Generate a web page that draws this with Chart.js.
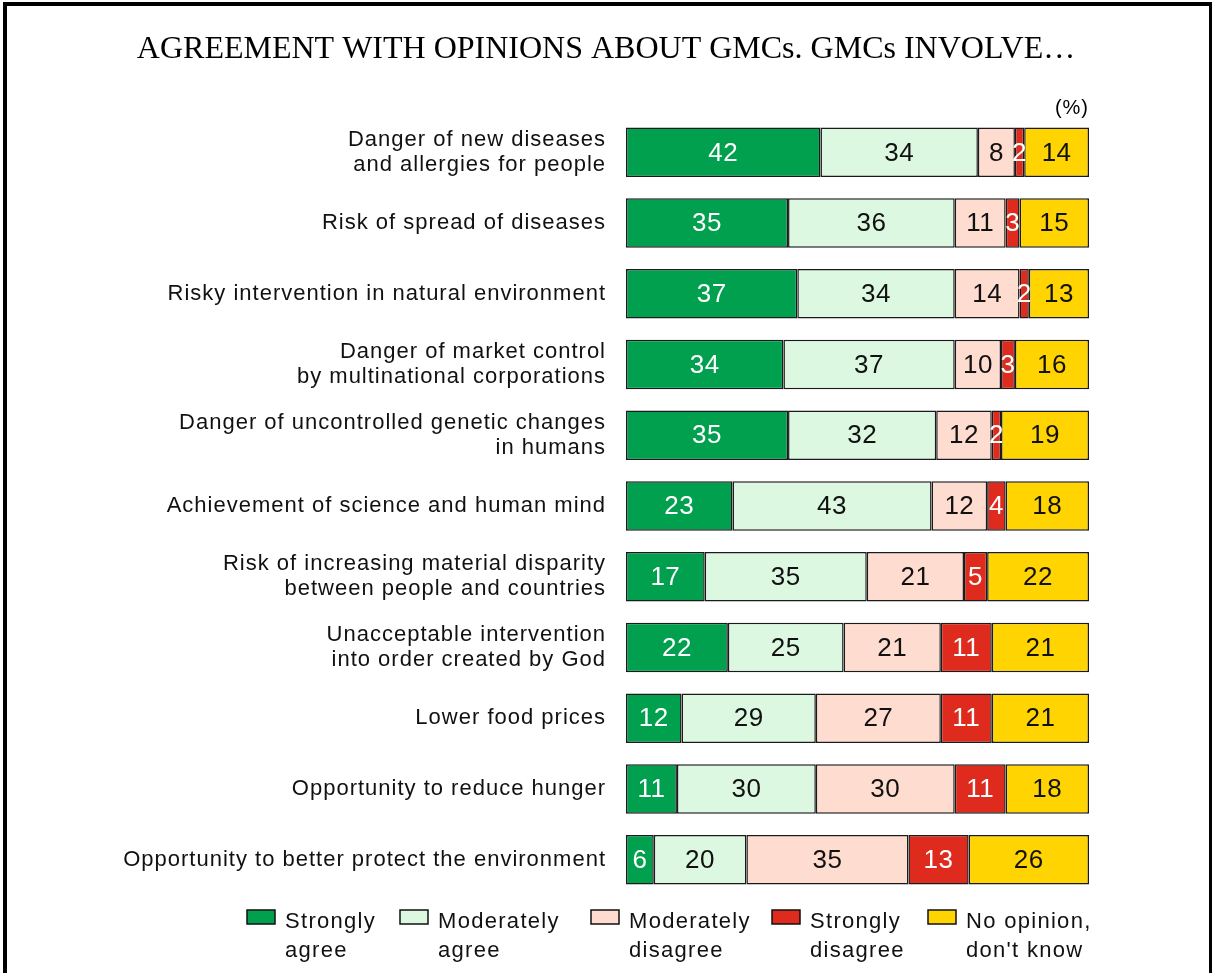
<!DOCTYPE html>
<html>
<head>
<meta charset="utf-8">
<style>
  html, body { margin: 0; padding: 0; background: #fff; }
  #wrap { width: 1212px; height: 973px; position: relative; }
</style>
<script src="https://cdn.jsdelivr.net/npm/chart.js@4.4.0/dist/chart.umd.min.js"></script>
</head>
<body>
<div id="wrap"><canvas id="gmcChart" width="1212" height="973"></canvas></div>
<script>
const categories = [
    ['Danger of new diseases', 'and allergies for people'],
    'Risk of spread of diseases',
    'Risky intervention in natural environment',
    ['Danger of market control', 'by multinational corporations'],
    ['Danger of uncontrolled genetic changes', 'in humans'],
    'Achievement of science and human mind',
    ['Risk of increasing material disparity', 'between people and countries'],
    ['Unacceptable intervention', 'into order created by God'],
    'Lower food prices',
    'Opportunity to reduce hunger',
    'Opportunity to better protect the environment'
];

const stronglyAgree     = [42, 35, 37, 34, 35, 23, 17, 22, 12, 11, 6];
const moderatelyAgree   = [34, 36, 34, 37, 32, 43, 35, 25, 29, 30, 20];
const moderatelyDisagree = [8, 11, 14, 10, 12, 12, 21, 21, 27, 30, 35];
const stronglyDisagree  = [2, 3, 2, 3, 2, 4, 5, 11, 11, 11, 13];
const noOpinion         = [14, 15, 13, 16, 19, 18, 22, 21, 21, 18, 26];

const seriesNames = [
    ['Strongly', 'agree'],
    ['Moderately', 'agree'],
    ['Moderately', 'disagree'],
    ['Strongly', 'disagree'],
    ['No opinion,', "don't know"]
];
const seriesColors = ['#00A04E', '#DCF8E0', '#FFDCD0', '#DF2B1D', '#FFD400'];
const labelColors = ['#ffffff', '#111111', '#111111', '#ffffff', '#111111'];
const seriesValues = [stronglyAgree, moderatelyAgree, moderatelyDisagree, stronglyDisagree, noOpinion];

const titleText = 'AGREEMENT WITH OPINIONS ABOUT GMCs. GMCs INVOLVE\u2026';

// frame, title, (%) and the legend
const decorPlugin = {
    id: 'decor',
    beforeDraw(chart) {
        // the source labels are set a bit wider than plain Arial
        chart.ctx.letterSpacing = '1px';
    },
    afterDraw(chart) {
        const ctx = chart.ctx;
        const area = chart.chartArea;
        ctx.save();
        ctx.letterSpacing = '0px';

        ctx.strokeStyle = '#000';
        ctx.lineWidth = 4;
        ctx.beginPath();
        ctx.moveTo(5, 1000);
        ctx.lineTo(5, 4);
        ctx.lineTo(1211, 4);
        ctx.lineTo(1211, 1000);
        ctx.stroke();

        ctx.fillStyle = '#000';
        ctx.font = '32px "Liberation Serif"';
        ctx.textAlign = 'center';
        ctx.textBaseline = 'middle';
        ctx.fillText(titleText, 606, 50);

        ctx.font = '20px "Liberation Sans"';
        ctx.textAlign = 'right';
        ctx.letterSpacing = '1px';
        ctx.fillText('(%)', area.right, 108);

        // legend
        const boxX = [247, 400, 591, 772, 928];
        ctx.font = '22px "Liberation Sans"';
        ctx.letterSpacing = '1.3px';
        ctx.textAlign = 'left';
        chart.data.datasets.forEach((ds, i) => {
            ctx.fillStyle = ds.backgroundColor;
            ctx.fillRect(boxX[i], 910, 28, 14);
            ctx.lineWidth = 1.5;
            ctx.strokeStyle = '#111';
            ctx.strokeRect(boxX[i], 910, 28, 14);
            ctx.fillStyle = '#111';
            ctx.fillText(seriesNames[i][0], boxX[i] + 38, 922);
            ctx.fillText(seriesNames[i][1], boxX[i] + 38, 951);
        });
        ctx.restore();
    }
};

// values inside the segments
const valueLabelPlugin = {
    id: 'valueLabels',
    afterDatasetsDraw(chart) {
        const ctx = chart.ctx;
        ctx.save();
        ctx.letterSpacing = '0.5px';
        ctx.font = '26px "Liberation Sans"';
        ctx.textAlign = 'center';
        ctx.textBaseline = 'middle';
        chart.data.datasets.forEach((ds, i) => {
            const meta = chart.getDatasetMeta(i);
            meta.data.forEach((bar, j) => {
                const cx = (bar.x + bar.base) / 2;
                ctx.fillStyle = labelColors[i];
                ctx.fillText(String(ds.data[j]), cx, bar.y + 1);
            });
        });
        ctx.restore();
    }
};

const ctx = document.getElementById('gmcChart').getContext('2d');
const gmcChart = new Chart(ctx, {
    type: 'bar',
    data: {
        labels: categories,
        datasets: seriesValues.map((vals, i) => ({
            label: seriesNames[i].join(' '),
            data: vals,
            backgroundColor: seriesColors[i],
            borderColor: '#1a1a1a',
            borderWidth: 1.5,
            borderSkipped: false,
            barPercentage: 0.70,
            categoryPercentage: 1.0
        }))
    },
    options: {
        indexAxis: 'y',
        responsive: false,
        animation: false,
        layout: {
            padding: { left: 0, right: 123, top: 117, bottom: 78 }
        },
        plugins: {
            legend: { display: false },
            title: { display: false },
            tooltip: { enabled: false }
        },
        scales: {
            x: {
                stacked: true,
                min: 0,
                max: 100,
                display: false
            },
            y: {
                stacked: true,
                grid: { display: false },
                border: { display: false },
                ticks: {
                    color: '#111',
                    padding: 12,
                    font: { family: '"Liberation Sans"', size: 22, lineHeight: 1.15 }
                },
                afterFit(scale) {
                    scale.width = 626;
                }
            }
        }
    },
    plugins: [valueLabelPlugin, decorPlugin]
});
</script>
</body>
</html>
